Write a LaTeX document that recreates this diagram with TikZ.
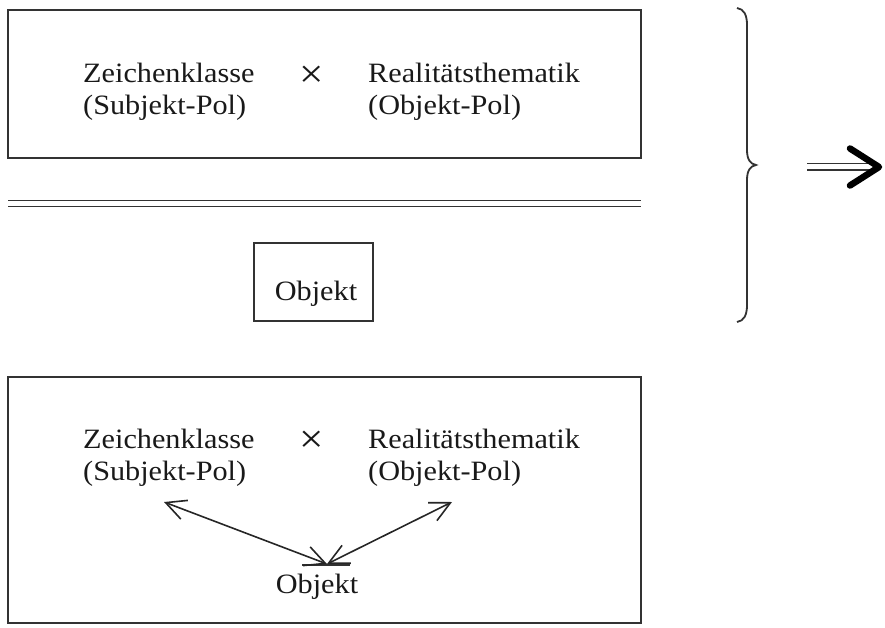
\documentclass[tikz,border=0pt]{standalone}
\usepackage{fontspec}
\setmainfont[FakeStretch=1.08]{Liberation Serif}
\usetikzlibrary{arrows.meta}
\begin{document}
\begin{tikzpicture}[x=1pt,y=-1pt,
  ink/.style={draw=black!80, line width=1.8pt},
  box/.style={ink, rectangle, inner sep=0pt},
  lbl/.style={inner sep=0pt, anchor=base west, font=\fontsize{28}{32}\selectfont, text=black!90},
  clbl/.style={lbl, anchor=base},
  times/.style={inner sep=0pt, anchor=center, font=\fontsize{40}{40}\selectfont, text=black!90},
  barbs/.style={draw=black!85, line width=1.6pt, {Straight Barb[length=20pt,width=20pt,line width=1.6pt]}-{Straight Barb[length=20pt,width=20pt,line width=1.6pt]}}
]
\useasboundingbox (0,0) rectangle (885,628);

% top box
\node[box, minimum width=633pt, minimum height=148pt] (topbox) at (324.5,84) {};
\node[lbl] (zk1) at (83,83) {Zeichenklasse};
\node[lbl] (sp1) at (83,115) {(Subjekt-Pol)};
\node[times] (x1) at (312,77) {×};
\node[lbl] (rt1) at (368,83) {Realitätsthematik};
\node[lbl] (op1) at (368,115) {(Objekt-Pol)};

% double rule
\coordinate (dl) at (8,200.5);
\coordinate (dr) at (641,200.5);
\coordinate (dl2) at (8,206.5);
\coordinate (dr2) at (641,206.5);
\draw[ink] (dl) -- (dr);
\draw[ink] (dl2) -- (dr2);

% Objekt box
\node[box, minimum width=119pt, minimum height=78pt] (objbox) at (313.5,282) {};
\node[clbl] (obj1) at (316,300) {Objekt};

% brace
\draw[ink] (737,8) .. controls (744,9) and (747,15) .. (747,25) -- (747,150)
  .. controls (747,159) and (750,164) .. (756,165)
  .. controls (750,166) and (747,171) .. (747,180) -- (747,305)
  .. controls (747,315) and (744,321) .. (737,322);

% double arrow
\coordinate (as) at (807,163.5);
\coordinate (ae) at (874,163.5);
\coordinate (as2) at (807,170);
\coordinate (ae2) at (874,170);
\draw[ink] (as) -- (ae);
\draw[ink] (as2) -- (ae2);
\coordinate (h1) at (850,148.5);
\coordinate (ht) at (879,167);
\coordinate (h2) at (850,185.5);
\draw[draw=black, line width=6.5pt, line cap=round, line join=round] (h1) -- (ht) -- (h2);

% bottom box
\node[box, minimum width=633pt, minimum height=246pt] (botbox) at (324.5,500) {};
\node[lbl] (zk2) at (83,448) {Zeichenklasse};
\node[lbl] (sp2) at (83,480) {(Subjekt-Pol)};
\node[times] (x2) at (312,442) {×};
\node[lbl] (rt2) at (368,448) {Realitätsthematik};
\node[lbl] (op2) at (368,480) {(Objekt-Pol)};
\node[clbl] (obj2) at (317,593) {Objekt};

\coordinate (j) at (327,564);
\coordinate (tl) at (164,502);
\coordinate (tr) at (452,502);
\coordinate (hl) at (302,565);
\coordinate (hr) at (350,565);
\draw[draw=black!80, line width=1.2pt] (hl) -- (hr);
\draw[barbs] (j) -- (tl);
\draw[barbs] (j) -- (tr);
\end{tikzpicture}
\end{document}
